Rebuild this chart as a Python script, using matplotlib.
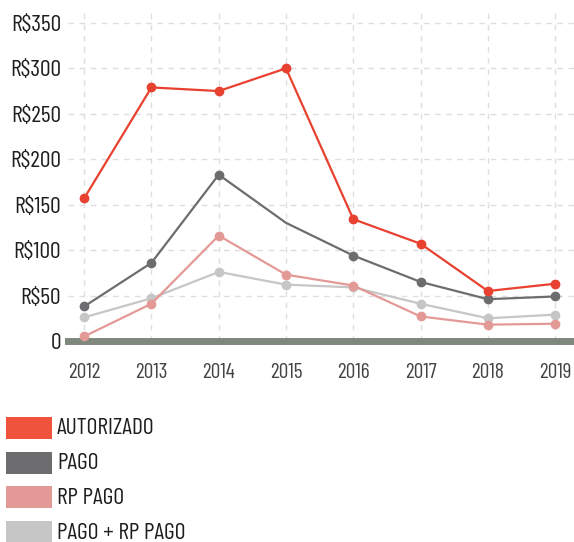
import matplotlib.pyplot as plt
from matplotlib.patches import Rectangle

plt.rcParams['font.family'] = ['Barlow Condensed', 'DejaVu Sans']

years = [2012, 2013, 2014, 2015, 2016, 2017, 2018, 2019]
autorizado = [157, 279, 275, 300, 134, 107, 55, 63]
pago = [38, 86, 183, 130, 94, 65, 46, 49]
rp_pago = [5, 41, 116, 73, 61, 27, 18, 19]
pago_rp = [26, 47, 76, 62, 59, 41, 25, 29]
yticks = [0, 50, 100, 150, 200, 250, 300, 350]
ytick_labels = ['0', 'R$50', 'R$100', 'R$150', 'R$200', 'R$250', 'R$300', 'R$350']

series = [
    ('AUTORIZADO', autorizado, '#e8412f', '#f0533c'),
    ('PAGO', pago, '#6d6d6f', '#6d6d70'),
    ('RP PAGO', rp_pago, '#e39a97', '#e39a97'),
    ('PAGO + RP PAGO', pago_rp, '#c6c6c6', '#c6c6c6'),
]

fig = plt.figure(figsize=(5.74, 5.42), dpi=100)
ax = fig.add_axes([68 / 574, 1 - 341 / 542, 1 - 68 / 574, 329 / 542])

for name, vals, lc, pc in reversed(series):
    marks = list(range(len(years)))
    if name == 'PAGO':
        marks.remove(3)  # no dot on 2015 in the original
    ax.plot(years, vals, color=lc, lw=1.6, marker='o', ms=6, markevery=marks, zorder=3)

ax.set_xlim(2011.76, 2019.28)
ax.set_ylim(0, 362)
ax.set_xticks(years)
ax.set_yticks(yticks)
ax.set_yticklabels(ytick_labels)
ax.grid(True, color='#dedede', ls=(0, (4, 4)), lw=1)
ax.set_axisbelow(True)
for s in ax.spines.values():
    s.set_visible(False)
ax.tick_params(length=0, labelsize=17, colors='#1e1e1e')
ax.tick_params(axis='x', pad=16, labelsize=15.5, colors='#444444')
ax.tick_params(axis='y', pad=5)
ax.axhline(0, color='#7e887d', lw=5, clip_on=False, zorder=2)

# legend
for i, (name, vals, lc, pc) in enumerate(series):
    top = 417 + i * 34.7
    fig.add_artist(Rectangle((6 / 574, 1 - (top + 22) / 542), 46 / 574, 22 / 542,
                             transform=fig.transFigure, color=pc, lw=0))
    fig.text(57 / 574, 1 - (top + 12) / 542, name, fontsize=17, va='center', ha='left',
             color='#1e1e1e')

fig.savefig('out.png', dpi=100)
